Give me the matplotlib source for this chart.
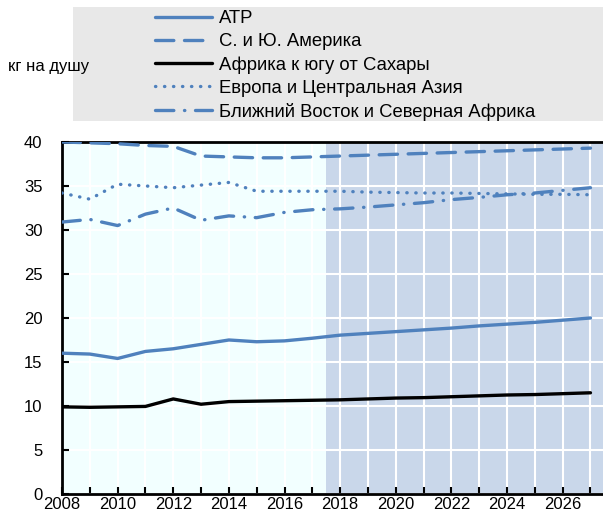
import matplotlib
matplotlib.use('Agg')
import matplotlib.pyplot as plt
from matplotlib.patches import Rectangle

plt.rcParams['font.family'] = ['Liberation Sans', 'DejaVu Sans']

years = list(range(2008, 2028))

atr = [16.0, 15.9, 15.4, 16.2, 16.5, 17.0, 17.5, 17.3, 17.4, 17.7,
       18.05, 18.25, 18.45, 18.65, 18.85, 19.1, 19.3, 19.5, 19.75, 20.0]
amerika = [40.0, 39.9, 39.8, 39.6, 39.5, 38.4, 38.3, 38.2, 38.2, 38.3,
           38.4, 38.5, 38.6, 38.7, 38.8, 38.9, 39.0, 39.1, 39.2, 39.3]
afrika = [9.9, 9.85, 9.9, 9.95, 10.8, 10.2, 10.5, 10.55, 10.6, 10.65,
          10.7, 10.8, 10.9, 10.95, 11.05, 11.15, 11.25, 11.3, 11.4, 11.5]
evropa = [34.2, 33.5, 35.2, 35.0, 34.8, 35.1, 35.4, 34.4, 34.4, 34.4,
          34.4, 34.3, 34.25, 34.2, 34.2, 34.15, 34.1, 34.05, 34.05, 34.0]
vostok = [30.9, 31.2, 30.5, 31.8, 32.5, 31.1, 31.6, 31.4, 32.0, 32.3,
          32.4, 32.6, 32.85, 33.1, 33.45, 33.7, 34.0, 34.2, 34.5, 34.8]

names = ['АТР', 'С. и Ю. Америка', 'Африка к югу от Сахары',
         'Европа и Центральная Азия', 'Ближний Восток и Северная Африка']

blue = '#4F81BD'

fig = plt.figure(figsize=(6.03, 5.2), dpi=100)
ax = fig.add_axes([0.1028, 0.05, 0.8972, 0.677])
ax.set_facecolor('#F2FFFF')
ax.axvspan(2017.5, 2028, color='#C9D7EA', zorder=0, lw=0)

lw = 2.4
ax.plot(years, atr, color=blue, lw=lw, solid_capstyle='round', label=names[0], zorder=3)
ax.plot(years, amerika, color=blue, lw=lw, dashes=(5.5, 3.2), dash_capstyle='round', label=names[1], zorder=3)
ax.plot(years, afrika, color='black', lw=lw, solid_capstyle='round', label=names[2], zorder=3)
ax.plot(years, evropa, color=blue, lw=lw, dashes=(0.1, 2.6), dash_capstyle='round', label=names[3], zorder=3)
ax.plot(years, vostok, color=blue, lw=lw, dashes=(5.5, 3.2, 0.1, 3.2), dash_capstyle='round', label=names[4], zorder=3)

ax.set_xlim(2008, 2027.45)
ax.set_ylim(0, 40)
ax.set_xticks(range(2008, 2028), minor=True)
ax.set_xticks(range(2008, 2028, 2))
ax.set_yticks(range(0, 41, 5))
ax.grid(True, which='both', color='white', lw=1.5, zorder=1)
ax.set_axisbelow(True)
ax.tick_params(axis='both', which='both', direction='in', length=5, width=1.5,
               labelsize=12, colors='black')
ax.tick_params(axis='x', pad=2)
ax.tick_params(axis='y', pad=14)
for s in ['left', 'bottom', 'top']:
    ax.spines[s].set_linewidth(2)
ax.spines['right'].set_visible(False)

fig.patches.append(Rectangle((73 / 603, 1 - 121 / 520), 530 / 603, 114 / 520,
                             transform=fig.transFigure, facecolor='#E8E8E8',
                             edgecolor='none', zorder=0))
fig.legend(loc='upper left', bbox_to_anchor=(155 / 603, 1 - 10 / 520), frameon=False,
           fontsize=13.3, handlelength=3.1, handletextpad=0.38, labelspacing=0.33,
           borderpad=0, borderaxespad=0)

fig.text(8 / 603, 1 - 66 / 520, 'кг на душу', fontsize=12, va='center', ha='left')

fig.savefig('out.png', dpi=100)
